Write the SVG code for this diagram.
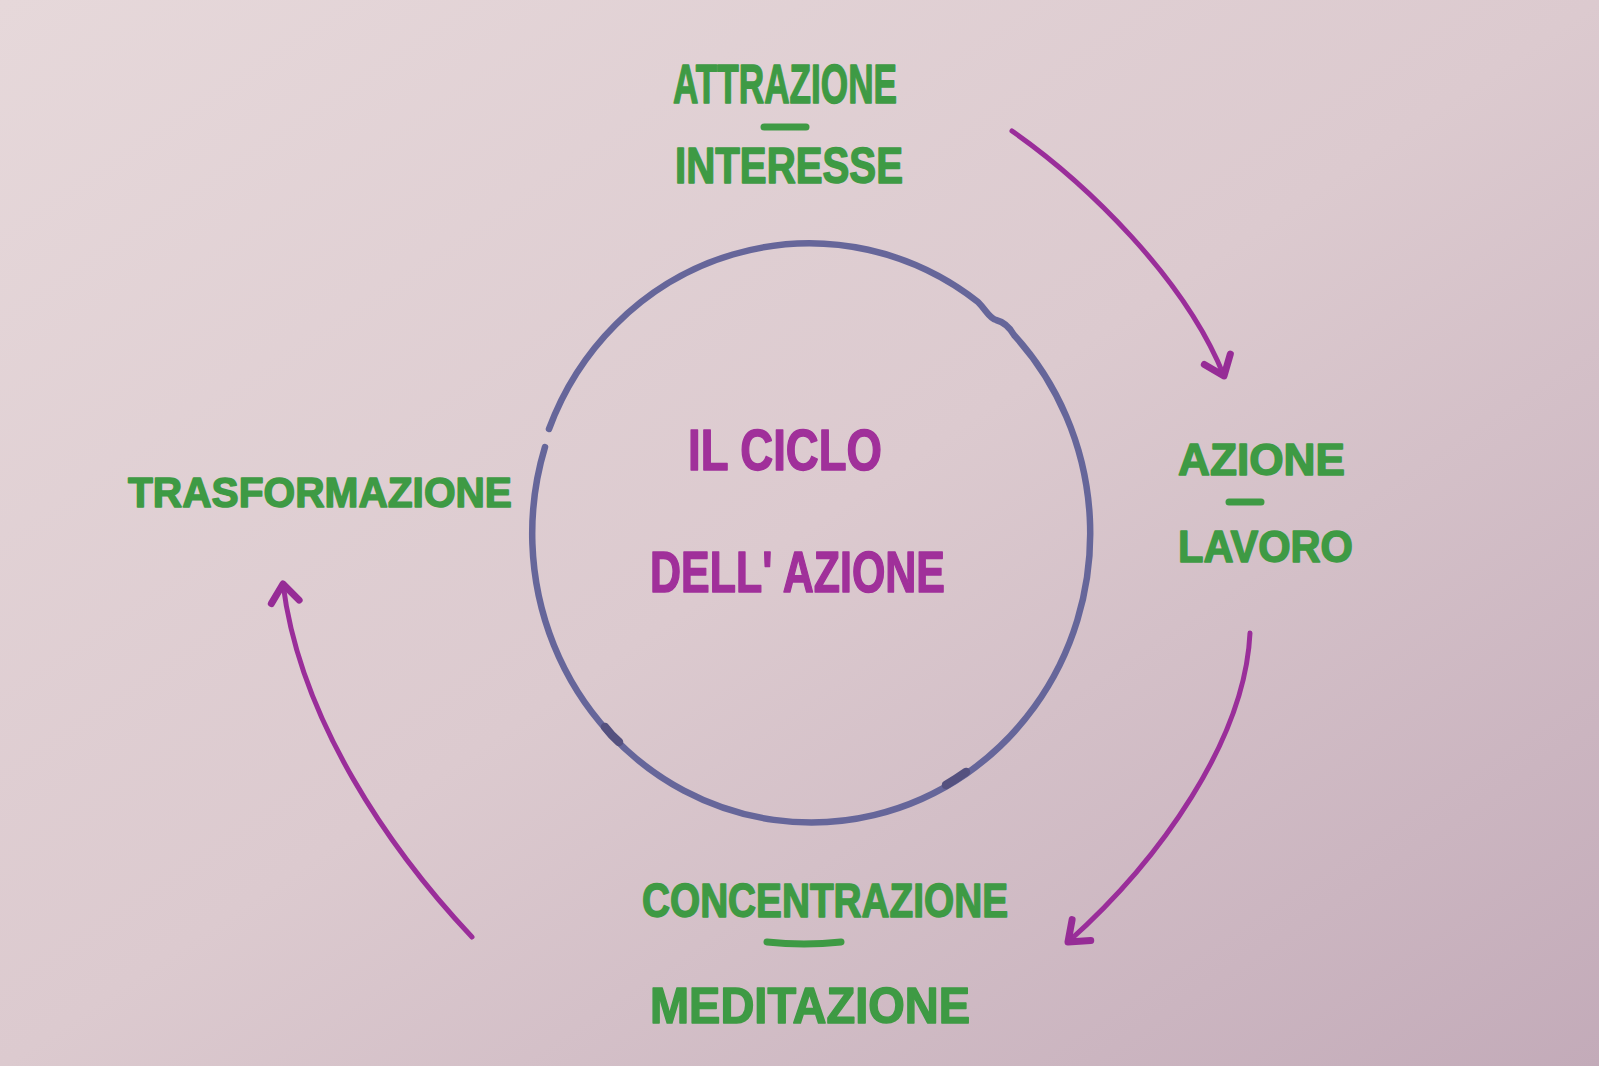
<svg xmlns="http://www.w3.org/2000/svg" width="1599" height="1066" viewBox="0 0 1599 1066">
  <defs>
    <linearGradient id="bg" x1="0" y1="0" x2="1" y2="1">
      <stop offset="0" stop-color="#e6d8da"/>
      <stop offset="0.5" stop-color="#dccacf"/>
      <stop offset="1" stop-color="#c3abb9"/>
    </linearGradient>
    <marker id="head" markerUnits="userSpaceOnUse" markerWidth="50" markerHeight="50" refX="0" refY="0" viewBox="-25 -25 50 50" orient="auto" overflow="visible">
      <path d="M -18 -14 L 0 0 L -18 14" fill="none" stroke="#962c96" stroke-width="7" stroke-linecap="round" stroke-linejoin="round"/>
    </marker>
  </defs>
  <style>
    .lbl { font-family: "Liberation Sans", "DejaVu Sans", sans-serif; font-weight: bold; fill: #3e9a44; stroke: #3e9a44; stroke-width: 1.5; stroke-linejoin: round; }
    .ttl { font-family: "Liberation Sans", "DejaVu Sans", sans-serif; font-weight: bold; fill: #a0309a; stroke: #a0309a; stroke-width: 1.5; stroke-linejoin: round; }
    .dash { stroke: #3e9a44; stroke-width: 7; stroke-linecap: round; fill: none; }
    .arrow { stroke: #9a2e9a; stroke-width: 5; fill: none; stroke-linecap: round; marker-end: url(#head); }
    .ring { fill: none; stroke: #66669a; stroke-width: 6.5; stroke-linecap: round; stroke-linejoin: round; }
    .blot { fill: none; stroke: #55517f; stroke-width: 8.5; stroke-linecap: round; }
  </style>
  <rect x="0" y="0" width="1599" height="1066" fill="url(#bg)"/>

  <g id="circle">
    <path class="ring" d="M 549 429 A 279 289 0 0 1 978 302 C 986 310, 989 318, 996 320 C 1004 322, 1010 328, 1014 335 A 279 289 0 1 1 545 447"/>
    <path class="blot" d="M 605 727 Q 611 735 619 742"/>
    <path class="blot" d="M 966 772 Q 956 779 946 785"/>
  </g>

  <g id="center-title">
    <text class="ttl" x="688" y="470" font-size="58" textLength="194" lengthAdjust="spacingAndGlyphs">IL CICLO</text>
    <text class="ttl" x="650" y="592" font-size="58" textLength="295" lengthAdjust="spacingAndGlyphs">DELL' AZIONE</text>
  </g>

  <g id="node-attrazione">
    <text class="lbl" x="673" y="103" font-size="56" textLength="224" lengthAdjust="spacingAndGlyphs">ATTRAZIONE</text>
    <line class="dash" x1="764" y1="127" x2="806" y2="127"/>
    <text class="lbl" x="675" y="183" font-size="50" textLength="228" lengthAdjust="spacingAndGlyphs">INTERESSE</text>
  </g>

  <g id="node-azione">
    <text class="lbl" x="1178" y="475" font-size="45" textLength="167" lengthAdjust="spacingAndGlyphs">AZIONE</text>
    <line class="dash" x1="1229" y1="502" x2="1261" y2="502"/>
    <text class="lbl" x="1178" y="562" font-size="45" textLength="175" lengthAdjust="spacingAndGlyphs">LAVORO</text>
  </g>

  <g id="node-concentrazione">
    <text class="lbl" x="642" y="917" font-size="48" textLength="366" lengthAdjust="spacingAndGlyphs">CONCENTRAZIONE</text>
    <path class="dash" d="M 767 942 Q 804 946 841 942"/>
    <text class="lbl" x="650" y="1023" font-size="50" textLength="320" lengthAdjust="spacingAndGlyphs">MEDITAZIONE</text>
  </g>

  <g id="node-trasformazione">
    <text class="lbl" x="128" y="507" font-size="42" textLength="384" lengthAdjust="spacingAndGlyphs">TRASFORMAZIONE</text>
  </g>

  <g id="connectors">
    <path class="arrow" d="M 1012 131 C 1085 182, 1185 278, 1224 376"/>
    <path class="arrow" d="M 1250 633 C 1245 740, 1160 860, 1068 942"/>
    <path class="arrow" d="M 472 937 C 390 850, 300 720, 283 584"/>
  </g>
</svg>
